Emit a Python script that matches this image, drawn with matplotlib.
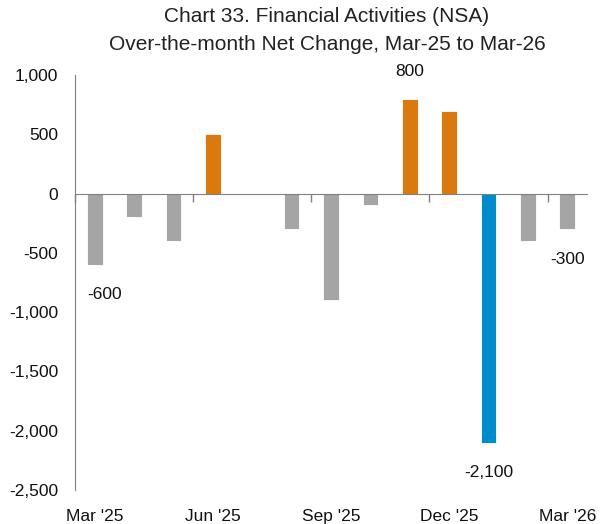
import numpy as np
import matplotlib
matplotlib.use("Agg")
import matplotlib.pyplot as plt

plt.rcParams["font.family"] = ["Liberation Sans", "DejaVu Sans"]

months = ["Mar '25", "Apr '25", "May '25", "Jun '25", "Jul '25", "Aug '25", "Sep '25",
          "Oct '25", "Nov '25", "Dec '25", "Jan '26", "Feb '26", "Mar '26"]
values = [-600, -200, -400, 500, 0, -300, -900, -100, 800, 700, -2100, -400, -300]
colors = ["#a5a5a5", "#a5a5a5", "#a5a5a5", "#d9790e", "#a5a5a5", "#a5a5a5", "#a5a5a5",
          "#a5a5a5", "#d9790e", "#d9790e", "#008bcc", "#a5a5a5", "#a5a5a5"]
labelled = {0: "-600", 8: "800", 10: "-2,100", 12: "-300"}
label_dx = {0: 10}

fig = plt.figure(figsize=(6.09, 5.24), dpi=100)
ax = fig.add_axes([75 / 609, 1 - 490 / 524, 512 / 609, 415 / 524])

x = np.arange(len(values))
ax.bar(x, values, width=0.4, color=colors, edgecolor="white", linewidth=0.6, zorder=2)

for i, txt in labelled.items():
    v = values[i]
    dy = 27 if v > 0 else -30
    ax.annotate(txt, (x[i], v), xytext=(label_dx.get(i, 0), dy), textcoords="offset pixels",
                ha="center", va="center", fontsize=12.5, color="#111111")

ax.set_xlim(-0.5, len(values) - 0.5)
ax.set_ylim(-2500, 1000)
ax.set_yticks(np.arange(-2500, 1001, 500))
ax.yaxis.set_major_formatter(matplotlib.ticker.FuncFormatter(lambda v, p: f"{int(v):,}"))
ax.tick_params(axis="y", length=0, pad=12, labelsize=12.5, labelcolor="#111111")

# zero line with category-boundary ticks
for s in ["top", "right"]:
    ax.spines[s].set_visible(False)
ax.spines["left"].set_color("#808080")
ax.spines["bottom"].set_position(("data", 0))
ax.spines["bottom"].set_color("#808080")
ax.set_xticks(np.arange(-0.5, len(values), 3))
ax.set_xticklabels([])
ax.tick_params(axis="x", length=6, width=1, color="#808080", direction="out")

sec = ax.secondary_xaxis("bottom")
sec.set_xticks(x[::3])
sec.set_xticklabels(months[::3])
sec.spines["bottom"].set_visible(False)
sec.tick_params(length=0, pad=14, labelsize=12.5, labelcolor="#111111")

fig.text(327 / 609, 1 - 17 / 524, "Chart 33. Financial Activities (NSA)", ha="center", va="center",
         fontsize=15, color="#222222")
fig.text(327 / 609, 1 - 45 / 524, "Over-the-month Net Change, Mar-25 to Mar-26", ha="center",
         va="center", fontsize=15, color="#222222")

fig.savefig("out.png", dpi=100)
